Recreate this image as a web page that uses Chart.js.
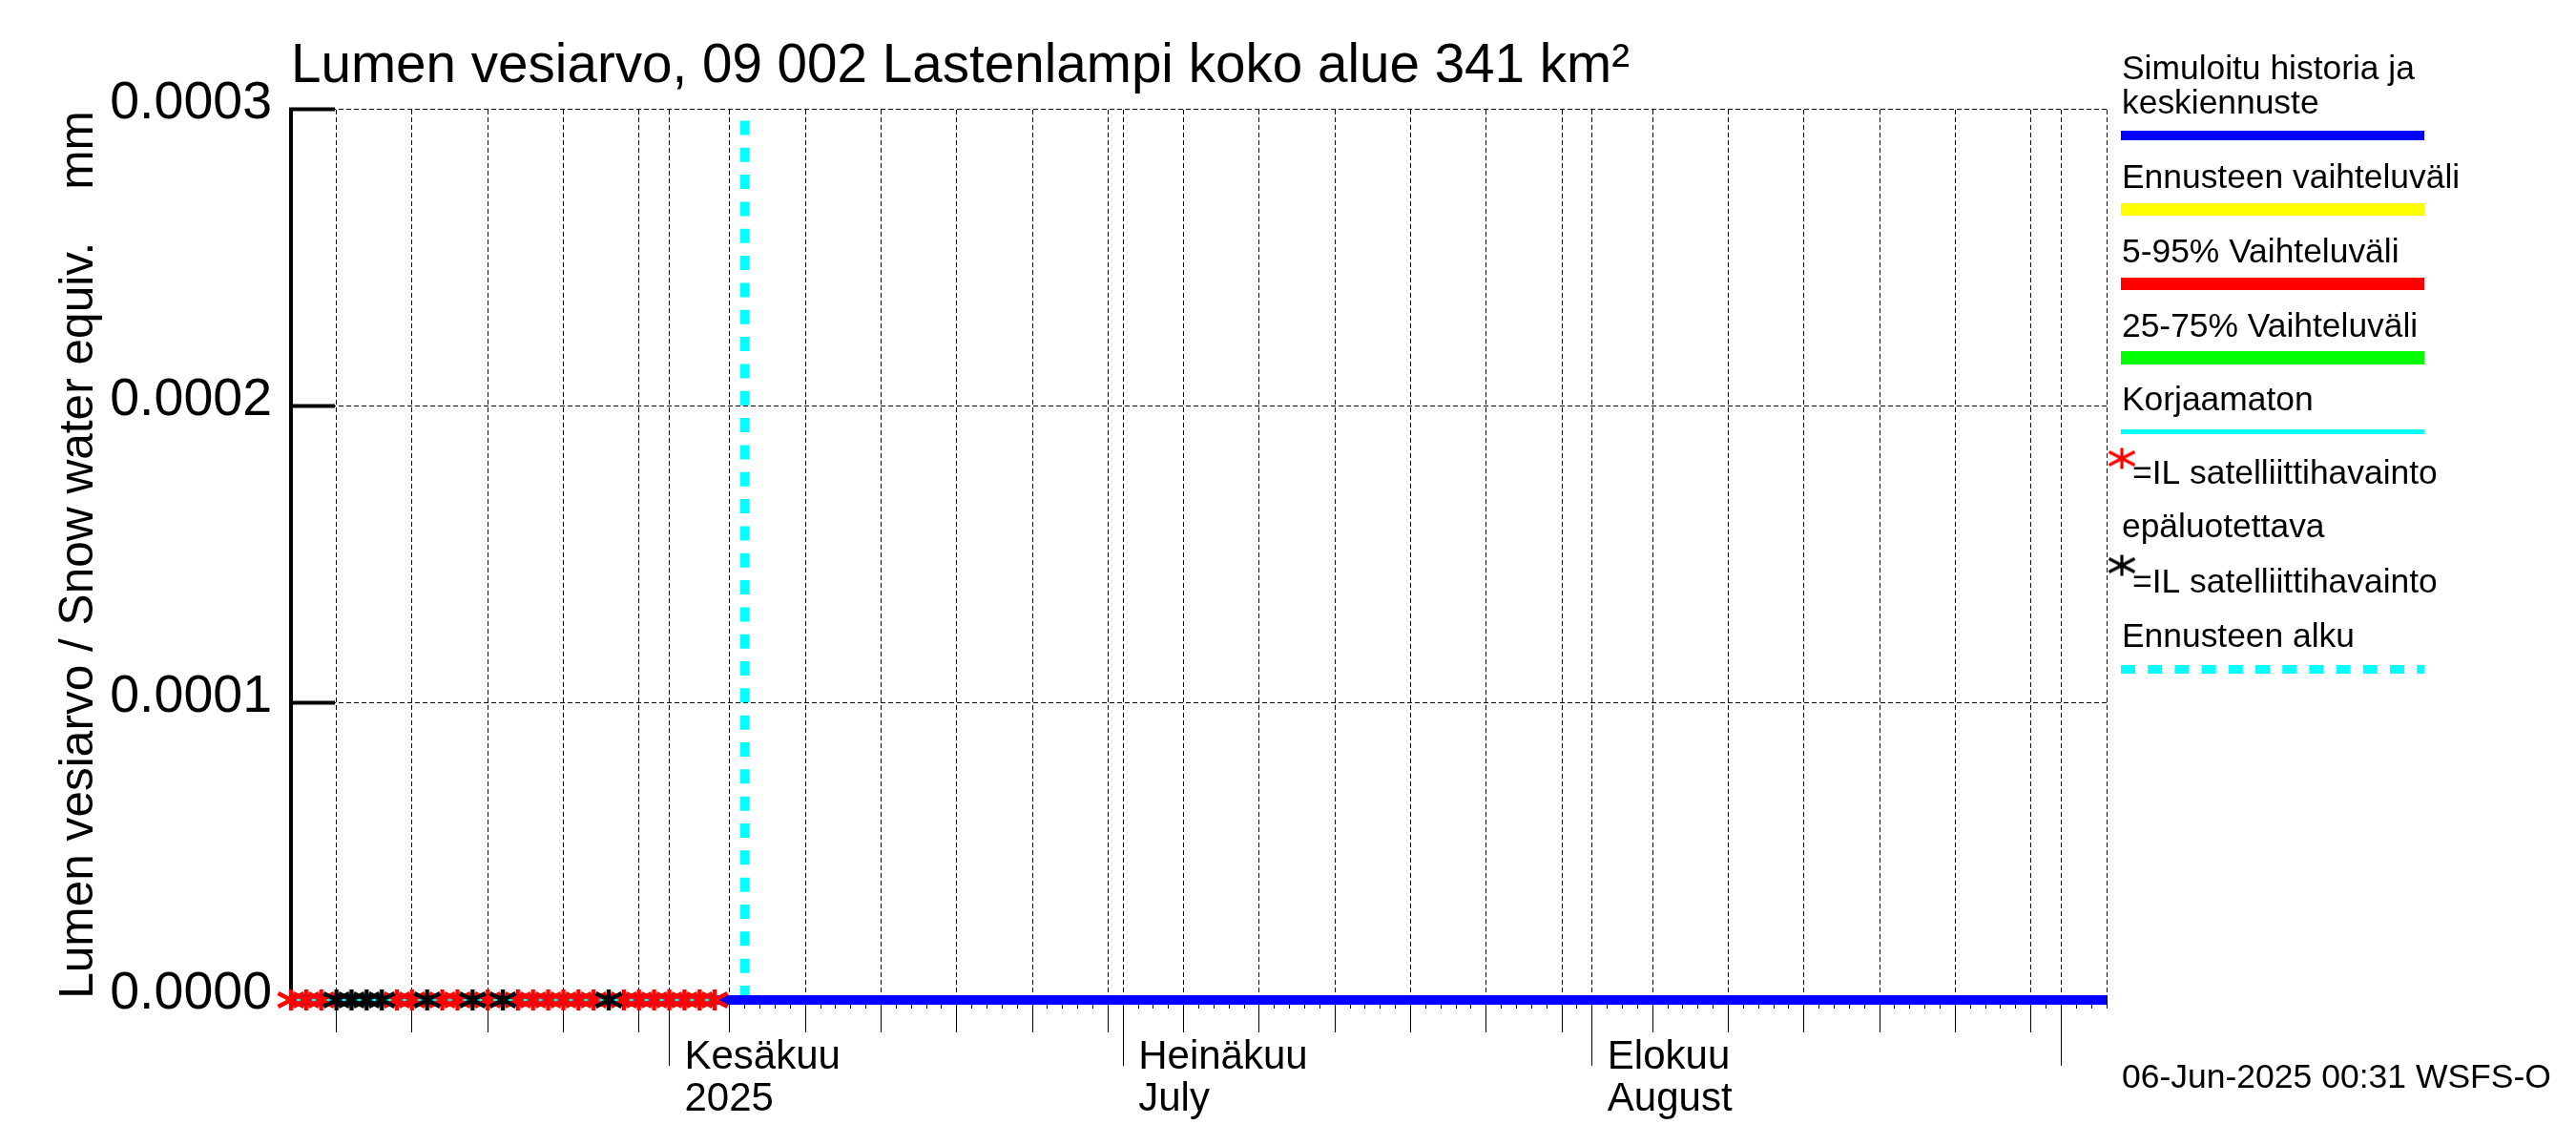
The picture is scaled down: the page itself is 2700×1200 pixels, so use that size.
<!DOCTYPE html>
<html><head><meta charset="utf-8">
<style>html,body{margin:0;padding:0;background:#fff}canvas{display:block}</style>
<script src="https://cdn.jsdelivr.net/npm/chart.js@4/dist/chart.umd.min.js"></script>
</head><body><canvas id="c" width="2700" height="1200"></canvas>
<script>
// Days are counted from 1 June 2025 (0 = Jun 1)
const titleText = 'Lumen vesiarvo, 09 002 Lastenlampi koko alue 341 km²';
const yTitleText = 'Lumen vesiarvo / Snow water equiv.    mm';
const stampText = '06-Jun-2025 00:31 WSFS-O';
const yTicks = [0, 0.0001, 0.0002, 0.0003];
const xRange = [-25, 95];
const fiveDayTicks = [-22,-17,-12,-7,-2,4,9,14,19,24,29,34,39,44,49,54,59,65,70,75,80,85,90,95];
const monthTicks = [0, 30, 61, 92];
const monthLabels = [['Kesäkuu','2025'],['Heinäkuu','July'],['Elokuu','August'],''];
const simDays = [-25, 95];
const simValues = [0, 0];
const rawDays = [-25, 3];
const rawValues = [0, 0];
const forecastDays = [5, 5];
const forecastValues = [0, 0.0003];
const redStarDays = [-25,-24,-23,-18,-17,-15,-14,-12,-10,-9,-8,-7,-6,-5,-3,-2,-1,0,1,2,3];
const redStarValues = [0,0,0,0,0,0,0,0,0,0,0,0,0,0,0,0,0,0,0,0,0];
const blackStarDays = [-22,-21,-20,-19,-16,-13,-11,-4];
const blackStarValues = [0,0,0,0,0,0,0,0];
const legendLines = ['Simuloitu historia ja','keskiennuste','Ennusteen vaihteluväli','5-95% Vaihteluväli','25-75% Vaihteluväli','Korjaamaton','=IL satelliittihavainto','epäluotettava','=IL satelliittihavainto','Ennusteen alku'];

const pairs = (xs, ys) => xs.map((x, i) => ({x, y: ys[i]}));
function makeStar(color, width){
  const cv = document.createElement('canvas'); cv.width = 32; cv.height = 28;
  const g = cv.getContext('2d'); g.strokeStyle = color; g.lineWidth = width; g.lineCap = 'butt';
  const cx = 16, cy = 14;
  [[0,11],[13.5,7],[13.5,-7]].forEach(([dx,dy]) => { g.beginPath(); g.moveTo(cx-dx,cy-dy); g.lineTo(cx+dx,cy+dy); g.stroke(); });
  return cv;
}
const redStar = makeStar('#ff0000', 4.4), blackStar = makeStar('#000000', 4.4);
const redKey = makeStar('#ff0000', 3.2), blackKey = makeStar('#000000', 3.2);
const FONT = '"Liberation Sans", Arial, sans-serif';
const setTicks = list => scale => { scale.ticks = list.map(v => ({value: v})); };
const dayList = []; for (let d = xRange[0]; d <= xRange[1]; d++) dayList.push(d);

const legendPlugin = {
  id: 'sideLegend',
  afterDraw(chart){
    const g = chart.ctx; g.save();
    g.fillStyle = '#000'; g.textBaseline = 'alphabetic'; g.textAlign = 'left';
    g.font = '35.4px ' + FONT;
    const base = [83,119,197,275,353,430,507,563,621,678];
    const xs = [2224,2224,2224,2224,2224,2224,2235,2224,2235,2224];
    legendLines.forEach((t,i)=>g.fillText(t, xs[i], base[i]));
    const bars = [['#0000ff',142,10],['#ffff00',219.5,13],['#ff0000',297.5,13],['#00ff00',375,14],['#00ffff',452.5,5]];
    bars.forEach(([c,y,w])=>{ g.strokeStyle=c; g.lineWidth=w; g.beginPath(); g.moveTo(2223,y); g.lineTo(2541,y); g.stroke(); });
    g.strokeStyle='#00ffff'; g.lineWidth=9; g.setLineDash([15,13.2]); g.beginPath(); g.moveTo(2223,701.5); g.lineTo(2541,701.5); g.stroke(); g.setLineDash([]);
    g.drawImage(redKey, 2224-16, 480.5-14);
    g.drawImage(blackKey, 2224-16, 592.5-14);
    g.font = '35.5px ' + FONT;
    g.fillText(stampText, 2224, 1140);
    g.restore();
  }
};

new Chart(document.getElementById('c'), {
  type: 'line',
  plugins: [legendPlugin],
  data: { datasets: [
    {label:'black', data:pairs(blackStarDays,blackStarValues), showLine:false, pointStyle:blackStar, pointRadius:14, clip:false},
    {label:'red', data:pairs(redStarDays,redStarValues), showLine:false, pointStyle:redStar, pointRadius:14, clip:false},
    {label:'raw', data:pairs(rawDays,rawValues), borderColor:'#00ffff', borderWidth:5, pointRadius:0, clip:false},
    {label:'sim', data:pairs(simDays,simValues), borderColor:'#0000ff', borderWidth:10, pointRadius:0, clip:false},
    {label:'forecast', data:pairs(forecastDays,forecastValues), borderColor:'#00ffff', borderWidth:10, borderDash:[15,13.33], pointRadius:0, clip:false}
  ]},
  options: {
    responsive:false, animation:false, devicePixelRatio:1,
    layout:{padding:{left:0,right:492,top:0,bottom:0}},
    plugins:{
      legend:{display:false}, tooltip:{enabled:false},
      title:{display:true, text:titleText, align:'start', fullSize:false, color:'#000',
        font:{family:FONT,size:56.6,weight:'normal'}, padding:{top:36,bottom:11}}
    },
    scales:{
      x:{type:'linear',position:'bottom',min:xRange[0],max:xRange[1],
        afterFit:s=>{s.height=152;}, afterBuildTicks:setTicks(dayList),
        border:{display:false},
        grid:{drawOnChartArea:false,tickLength:9,tickWidth:1,tickColor:'#000'},
        ticks:{display:false,autoSkip:false}},
      xFive:{type:'linear',position:{y:0},min:xRange[0],max:xRange[1],
        afterBuildTicks:setTicks(fiveDayTicks),
        border:{display:false,dash:[5,3]},
        grid:{color:'#000',lineWidth:1,tickLength:34,tickWidth:1,
          tickColor:c=>c.tick&&c.tick.value===xRange[1]?'rgba(0,0,0,0)':'#000'},
        ticks:{display:false,autoSkip:false}},
      xMonth:{type:'linear',position:{y:0},min:xRange[0],max:xRange[1],
        afterBuildTicks:setTicks(monthTicks),
        border:{display:false,dash:[5,3]},
        grid:{color:'#000',lineWidth:1,tickLength:69,tickWidth:1,tickColor:'#000'},
        ticks:{autoSkip:false,maxRotation:0,minRotation:0,align:'start',labelOffset:16,padding:-31,color:'#000',
          font:{family:FONT,size:42,lineHeight:1.05},
          callback:v=>monthLabels[monthTicks.indexOf(v)]}},
      y:{type:'linear',position:'left',min:yTicks[0],max:yTicks[3],
        afterFit:s=>{s.width=305;}, afterBuildTicks:setTicks(yTicks),
        border:{display:true,color:'#000',width:4,dash:[5,3]},
        grid:{color:'#000',lineWidth:1,tickLength:-46,tickWidth:4,tickColor:'#000'},
        title:{display:true,text:yTitleText,color:'#000',font:{family:FONT,size:49.6,weight:'normal'},padding:{top:54,bottom:0}},
        ticks:{padding:66,labelOffset:-6,color:'#000',font:{family:FONT,size:55.5},callback:v=>v.toFixed(4)}}
    }
  }
});
</script></body></html>
